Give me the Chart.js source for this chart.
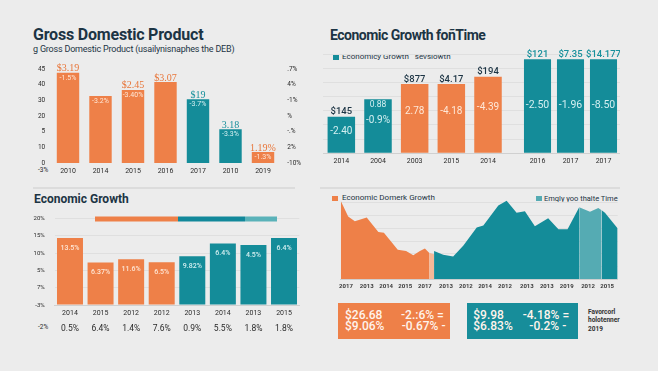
<!DOCTYPE html>
<html><head><meta charset="utf-8">
<script src="https://cdn.jsdelivr.net/npm/chart.js@4.4.1/dist/chart.umd.min.js"></script>
<style>
html,body{margin:0;padding:0;}
body{width:658px;height:371px;background:#ececec;position:relative;overflow:hidden;font-family:Roboto,'Liberation Sans',sans-serif;color:#1c3444;}
.t{position:absolute;white-space:nowrap;line-height:1;}
.b{font-weight:700;}
canvas{position:absolute;}
.sq{position:absolute;}
.rule{position:absolute;height:2px;background:#dcdcdc;}
.bx{position:absolute;}
.bt{position:absolute;white-space:nowrap;line-height:1;font-size:12px;color:#fff4ec;font-weight:500;}
</style></head><body>

<div class="t b" style="left:33px;top:27.2px;font-size:16px;letter-spacing:-0.2px;">Gross Domestic Product</div>
<div class="t" style="left:33px;top:44.7px;font-size:9px;letter-spacing:-0.2px;">g Gross Domestic Product (usailynisnaphes the DEB)</div>
<div class="t" style="left:38px;top:167px;font-size:6.5px;color:#2b2b2b;">-3%</div>

<div class="t b" style="left:330px;top:28.2px;font-size:14px;letter-spacing:-0.5px;">Economic Growth foñTime</div>
<div class="sq" style="left:333px;top:54.5px;width:6px;height:5px;background:#148c99;"></div>
<div class="t" style="left:342px;top:53.1px;font-size:8px;">Economicy Growth&nbsp;&nbsp; sevslowth</div>

<div class="rule" style="left:33px;top:187px;width:262px;"></div>
<div class="t b" style="left:34px;top:192.6px;font-size:12px;">Economic Growth</div>
<div class="t" style="left:38px;top:323.5px;font-size:6.5px;color:#2b2b2b;">-2%</div>

<div class="rule" style="left:320px;top:187px;width:300px;"></div>
<div class="sq" style="left:332px;top:195.7px;width:5.5px;height:5px;background:#ee8048;"></div>
<div class="t" style="left:342px;top:194.3px;font-size:8px;">Economic Domerk Growth</div>
<div class="sq" style="left:536px;top:196px;width:5.5px;height:5px;background:#55abb3;"></div>
<div class="t" style="left:544px;top:194.7px;font-size:7.5px;">Emgly yoo thalte Time</div>

<div class="bx" style="left:338px;top:302.5px;width:112px;height:36px;background:#ee8048;"></div>
<div class="bt" style="left:345px;top:308.5px;">$26.68</div>
<div class="bt" style="left:401px;top:308.5px;">-2.:6% =</div>
<div class="bt" style="left:345px;top:320.2px;">$9.06%</div>
<div class="bt" style="left:401.7px;top:320.2px;">-0.67% -</div>
<div class="bx" style="left:467px;top:302.5px;width:111px;height:36px;background:#178d9a;"></div>
<div class="bt" style="left:473.3px;top:308.5px;">$9.98</div>
<div class="bt" style="left:522.7px;top:308.5px;">-4.18% =</div>
<div class="bt" style="left:473.3px;top:320.2px;">$6.83%</div>
<div class="bt" style="left:529.3px;top:320.2px;">-0.2% -</div>
<div class="t b" style="left:588px;top:308.5px;font-size:6.5px;color:#333;">Favorcorl</div>
<div class="t b" style="left:588px;top:316.8px;font-size:6.5px;color:#333;">holotenner</div>
<div class="t b" style="left:588px;top:325.8px;font-size:6.5px;color:#333;">2019</div>

<canvas id="c1" width="290" height="125" style="left:20px;top:55px;"></canvas>
<canvas id="c2a" width="220" height="130" style="left:323px;top:40px;"></canvas>
<canvas id="c2b" width="99" height="130" style="left:521px;top:40px;"></canvas>
<canvas id="c3" width="290" height="140" style="left:20px;top:205px;"></canvas>
<canvas id="c3h" width="182" height="10" style="left:95px;top:214px;"></canvas>
<canvas id="c4" width="295" height="105" style="left:330px;top:190px;"></canvas>

<script>
// ---------- Panel 1: Gross Domestic Product ----------
const gdpYears = ['2010','2014','2015','2016','2017','2010','2019'];
const gdpValues = [5.76, 4.28, 4.66, 5.17, 4.07, 2.15, 0.70];
const gdpGroup = ['o','o','o','o','t','t','o'];
const gdpLeftTicks = ['0','10','5','20','30','40','45'];
const gdpRightTicks = ['-10%','2%','-.%','%','-1%','4%','.7%'];
const gdpTopLabels = ['$3.19','','$2.45','$3.07','$19','3.18','1.19%'];
const gdpInnerLabels = ['-1.5%','-3.2%','-3.40%','','-3.7%','-3.3%','-1.3%'];

// ---------- Panel 2: Economic Growth foñTime ----------
const egYearsA = ['2014','2004','2003','2015','2014'];
const egValuesA = [2.58, 3.81, 4.89, 4.89, 5.41];
const egGroupA = ['t','t','o','o','o'];
const egTopA = ['$145','','$877','$4.17','$194'];
const egTopInA = ['','0.88','','',''];
const egInnerA = ['-2.40','-0.9%','2.78','-4.18','-4.39'];
const egYearsB = ['2016','2017','2017'];
const egValuesB = [6.63, 6.63, 6.63];
const egTopB = ['$121','$7.35','$14.177'];
const egInnerB = ['-2.50','-1.96','-8.50'];

// ---------- Panel 3: Economic Growth ----------
const growthYears = ['2014','2015','2012','2012','2013','2014','2013','2015'];
const growthValues = [3.88, 2.46, 2.65, 2.48, 2.82, 3.56, 3.47, 3.88];
const growthGroup = ['o','o','o','o','t','t','t','t'];
const growthRates = ['13.5%','6.37%','11.6%','6.5%','9.82%','6.4%','4.5%','6.4%'];
const growthPct = ['0.5%','6.4%','1.4%','7.6%','0.9%','5.5%','1.8%','1.8%'];
const growthTicks = ['-3%','7%','5%','10%','15%','20%'];
const growthSplit = [83, 67, 32];

// ---------- Panel 4: area chart ----------
const areaTickLabels = ['2017','2013','2014','2015','2017','2013','2012','2014','2012','2013','2013','2019','2012','2015'];
const areaTickPos = [1.9, 9.4, 16.4, 23.3, 30.4, 38.0, 45.2, 52.1, 59.3, 67.2, 74.4, 81.6, 89.3, 96.2];
const areaOrange = [[0,61.5],[2.7,49.2],[5.1,45.6],[9.4,48.4],[13.6,37.0],[15.6,36.4],[20.6,23.1],[23.6,22.2],[26.2,18.8],[28.6,22.2],[30.4,24.2],[31.9,20.8]];
const areaOrangeTail = [[31.9,20.8],[33.7,19.7]];
const areaTeal = [[33.7,22.2],[37.0,19.3],[40.6,17.9],[44.3,26.5],[49.1,40.7],[51.5,42.1],[56.9,57.8],[59.9,61.5],[63.5,52.1],[66.5,53.3],[70.1,41.5],[74.9,47.8],[78.6,39.3],[81.9,39.3],[86.1,56.4]];
const areaHighlight = [[86.1,56.4],[90.0,53.0],[93.0,55.8],[94.2,54.1]];
const areaTealEnd = [[94.2,54.1],[95.4,52.1],[100,39.8]];

// ---------- styling ----------
const C = {orange:'#ee8048', teal:'#148c99', lteal:'#55abb3', lorange:'#f4b898', navy:'#1c3444',
  grid:'#dfdfdf', axis:'#d0d0d0', tick:'#2b2b2b', lightOn:{o:'rgba(255,236,222,0.95)', t:'rgba(222,244,245,0.95)'},
  txt:{o:'#e8763a', t:'#17909c'}};
const colorOf = g => g === 'o' ? C.orange : C.teal;
const FF = "Roboto, 'Liberation Sans', sans-serif";

Chart.defaults.font.family = FF;
Chart.defaults.color = C.tick;
Chart.defaults.animation = false;
Chart.defaults.responsive = false;
Chart.defaults.maintainAspectRatio = false;
Chart.defaults.devicePixelRatio = 1;
Chart.defaults.plugins.legend.display = false;
Chart.defaults.plugins.tooltip.enabled = false;

const fixW = w => s => { s.width = w; };
const fixH = h => s => { s.height = h; };

function barText(cfg) {
  return { id: 'barText', afterDatasetsDraw(chart) {
    const ctx = chart.ctx;
    chart.getDatasetMeta(0).data.forEach((b, i) => {
      const h = b.base - b.y;
      ctx.save(); ctx.textAlign = 'center';
      if (cfg.top && cfg.top[i]) { ctx.font = cfg.topFont; ctx.fillStyle = cfg.topColor[i]; ctx.textBaseline = 'alphabetic'; ctx.fillText(cfg.top[i], b.x, b.y - cfg.topGap); }
      if (cfg.topIn && cfg.topIn[i]) { ctx.font = cfg.topInFont; ctx.fillStyle = cfg.innerColor[i]; ctx.textBaseline = 'middle'; ctx.fillText(cfg.topIn[i], b.x, b.y + cfg.topInGap); }
      if (cfg.inner && cfg.inner[i]) { ctx.font = cfg.innerFont; ctx.fillStyle = cfg.innerColor[i]; ctx.textBaseline = 'middle'; ctx.fillText(cfg.inner[i], b.x, b.y + cfg.innerGap + cfg.innerFrac * h); }
      ctx.restore();
    });
  }};
}

// Panel 1
new Chart(document.getElementById('c1'), {
  type: 'bar',
  data: { labels: gdpYears, datasets: [{ data: gdpValues, backgroundColor: gdpGroup.map(colorOf), barPercentage: 0.69, categoryPercentage: 1 }] },
  options: {
    layout: { padding: { top: 14, left: 0, right: 0, bottom: 0 } },
    scales: {
      x: { grid: { display: false, drawTicks: false }, border: { display: false },
           ticks: { font: { size: 7 }, padding: 4, maxRotation: 0, autoSkip: false }, afterFit: fixH(17) },
      y: { min: 0, max: 6, grid: { display: false, drawTicks: false }, border: { display: false },
           ticks: { stepSize: 1, font: { size: 6.5 }, padding: 6.5, callback: v => gdpLeftTicks[v] }, afterFit: fixW(31.75) },
      y2: { position: 'right', min: 0, max: 6, grid: { display: false, drawTicks: false }, border: { display: false },
           ticks: { stepSize: 1, font: { size: 6.5 }, padding: 8, callback: v => gdpRightTicks[v] }, afterFit: fixW(30.75) }
    }
  },
  plugins: [barText({ top: gdpTopLabels, topFont: "10px 'Liberation Serif', serif", topColor: gdpGroup.map(g => C.txt[g]), topGap: 1.5,
    inner: gdpInnerLabels, innerFont: '7px ' + FF, innerColor: gdpGroup.map(g => C.lightOn[g]), innerGap: 5, innerFrac: 0 })]
});

// Panel 2 (left group)
new Chart(document.getElementById('c2a'), {
  type: 'bar',
  data: { labels: egYearsA, datasets: [{ data: egValuesA, backgroundColor: egGroupA.map(colorOf), barPercentage: 0.75, categoryPercentage: 1 }] },
  options: {
    layout: { padding: { top: 14.1, left: 0, right: 0, bottom: 0 } },
    scales: {
      x: { labels: [...egYearsA, ''], grid: { display: false, drawTicks: false }, border: { display: true, color: C.axis, width: 1 },
           ticks: { font: { size: 7 }, padding: 4, maxRotation: 0, autoSkip: false }, afterFit: fixH(16.7) },
      y: { min: 0, max: 7, grid: { color: C.grid, drawTicks: false }, border: { display: false },
           ticks: { display: false, stepSize: 1 }, afterFit: fixW(0) }
    }
  },
  plugins: [barText({ top: egTopA, topFont: '500 9.5px ' + FF, topColor: egGroupA.map(() => C.navy), topGap: 2.5,
    topIn: egTopInA, topInFont: '8.5px ' + FF, topInGap: 6,
    inner: egInnerA, innerFont: '10px ' + FF, innerColor: egGroupA.map(g => C.lightOn[g]), innerGap: 0, innerFrac: 0.4 })]
});

// Panel 2 (right group)
new Chart(document.getElementById('c2b'), {
  type: 'bar',
  data: { labels: egYearsB, datasets: [{ data: egValuesB, backgroundColor: C.teal, barPercentage: 0.82, categoryPercentage: 1 }] },
  options: {
    layout: { padding: { top: 14.1, left: 0, right: 0, bottom: 0 } },
    scales: {
      x: { grid: { display: false, drawTicks: false }, border: { display: true, color: C.axis, width: 1 },
           ticks: { font: { size: 7 }, padding: 4, maxRotation: 0, autoSkip: false }, afterFit: fixH(16.7) },
      y: { min: 0, max: 7, grid: { color: C.grid, drawTicks: false }, border: { display: false },
           ticks: { display: false, stepSize: 1 }, afterFit: fixW(0) }
    }
  },
  plugins: [barText({ top: egTopB, topFont: '500 9.5px ' + FF, topColor: egTopB.map(() => C.txt.t), topGap: 2,
    inner: egInnerB, innerFont: '10.5px ' + FF, innerColor: egTopB.map(() => C.lightOn.t), innerGap: 0, innerFrac: 0.49 })]
});

// Panel 3
new Chart(document.getElementById('c3'), {
  type: 'bar',
  data: { labels: growthYears, datasets: [{ data: growthValues, backgroundColor: growthGroup.map(colorOf), barPercentage: 0.85, categoryPercentage: 1 }] },
  options: {
    layout: { padding: { top: 12, left: 0, right: 10.7, bottom: 0 } },
    scales: {
      x: { weight: 0, grid: { display: false, drawTicks: false }, border: { display: true, color: C.axis, width: 1 },
           ticks: { font: { size: 7 }, padding: 4, maxRotation: 0, autoSkip: false }, afterFit: fixH(14) },
      x2: { type: 'category', labels: growthPct, position: 'bottom', weight: 1, grid: { display: false, drawTicks: false }, border: { display: false },
           ticks: { font: { size: 8.5 }, padding: 5, maxRotation: 0, autoSkip: false }, afterFit: fixH(26) },
      y: { min: 0, max: 5, grid: { color: C.grid, drawTicks: false }, border: { display: false },
           ticks: { stepSize: 1, font: { size: 6 }, padding: 10, callback: v => growthTicks[v] }, afterFit: fixW(34.7) }
    }
  },
  plugins: [barText({ inner: growthRates, innerFont: '500 7px ' + FF, innerColor: growthGroup.map(g => C.lightOn[g]), innerGap: 10, innerFrac: 0 })]
});

// Panel 3 header split bar
new Chart(document.getElementById('c3h'), {
  type: 'bar',
  data: { labels: [''], datasets: growthSplit.map((v, i) => ({ data: [v], backgroundColor: [C.orange, '#12889a', '#5ab2b9'][i], barPercentage: 1, categoryPercentage: 0.5 })) },
  options: {
    indexAxis: 'y',
    layout: { padding: 0 },
    scales: { x: { display: false, stacked: true, min: 0, max: 182 }, y: { display: false, stacked: true } }
  }
});

// Panel 4 area chart
const toXY = arr => arr.map(p => ({ x: p[0], y: p[1] }));
const areaDs = (arr, color) => ({ data: toXY(arr), backgroundColor: color, borderWidth: 0, pointRadius: 0, fill: 'origin', tension: 0 });
new Chart(document.getElementById('c4'), {
  type: 'line',
  data: { datasets: [areaDs(areaOrange, C.orange), areaDs(areaOrangeTail, C.lorange), areaDs(areaTeal, C.teal), areaDs(areaHighlight, C.lteal), areaDs(areaTealEnd, C.teal)] },
  options: {
    layout: { padding: { top: 0, left: 0, right: 7.3, bottom: 0 } },
    scales: {
      x: { type: 'linear', min: 0, max: 100, grid: { display: false, drawTicks: false }, border: { display: true, color: C.axis, width: 1 },
           afterBuildTicks: s => { s.ticks = areaTickPos.map(v => ({ value: v })); },
           ticks: { font: { size: 6, weight: 'bold' }, color: '#3a3a3a', padding: 4, maxRotation: 0, autoSkip: false, callback: (v, i) => areaTickLabels[i] },
           afterFit: fixH(15.7) },
      y: { min: 0, max: 70, grid: { color: c => (c.tick && c.tick.value > 0 && c.tick.value < 70) ? C.grid : 'rgba(0,0,0,0)', drawTicks: false }, border: { display: false },
           ticks: { display: false, stepSize: 10 }, afterFit: fixW(10.7) }
    }
  }
});
</script>
</body></html>
